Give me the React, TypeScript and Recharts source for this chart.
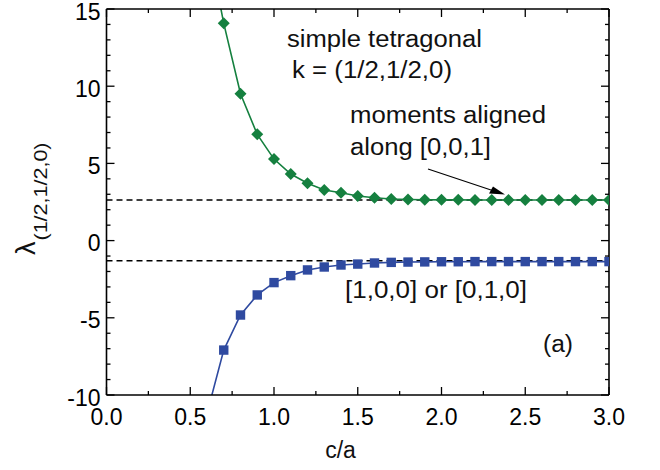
import React from 'react';
import { LineChart, Line, XAxis, YAxis, ReferenceLine, Customized } from 'recharts';

// c/a ratio sampled from 0.6 to 3.0
const caValues = [0.6, 0.7, 0.8, 0.9, 1.0, 1.1, 1.2, 1.3, 1.4, 1.5, 1.6, 1.7, 1.8, 1.9, 2.0, 2.1, 2.2, 2.3, 2.4, 2.5, 2.6, 2.7, 2.8, 2.9, 3.0];

// lambda for moments along [0,0,1]
const lambda001 = [19.6, 14.07, 9.51, 6.88, 5.28, 4.31, 3.71, 3.28, 3.1, 2.89, 2.78, 2.69, 2.66, 2.65, 2.64, 2.64, 2.63, 2.63, 2.63, 2.63, 2.63, 2.63, 2.63, 2.63, 2.63];

// lambda for moments along [1,0,0] or [0,1,0]
const lambda100 = [-11.2, -7.09, -4.82, -3.52, -2.72, -2.27, -1.9, -1.71, -1.58, -1.52, -1.45, -1.41, -1.39, -1.38, -1.37, -1.37, -1.36, -1.36, -1.36, -1.36, -1.36, -1.36, -1.36, -1.36, -1.36];

// asymptotic limits (dashed)
const limit001 = 2.63;
const limit100 = -1.3;

const xMajorTicks = [0, 0.5, 1.0, 1.5, 2.0, 2.5, 3.0];
const xMinorTicks = [0.25, 0.75, 1.25, 1.75, 2.25, 2.75];
const yMajorTicks = [-10, -5, 0, 5, 10, 15];
const yMinorTicks = [-9, -8, -7, -6, -4, -3, -2, -1, 1, 2, 3, 4, 6, 7, 8, 9, 11, 12, 13, 14];
const xAllTicks = [...xMajorTicks, ...xMinorTicks].sort((p, q) => p - q);
const yAllTicks = [...yMajorTicks, ...yMinorTicks].sort((p, q) => p - q);

const data = caValues.map((ca, i) => ({ ca, a: lambda001[i], b: lambda100[i] }));

const GREEN = '#15803f';
const BLUE = '#2f4aa0';
const INK = '#000';
const FONT = '"Liberation Sans", Arial, Helvetica, sans-serif';
const MAJOR = 8;
const MINOR = 4;

const isMajorX = (v: number) => xMajorTicks.some((t) => Math.abs(t - v) < 1e-9);
const isMajorY = (v: number) => yMajorTicks.some((t) => Math.abs(t - v) < 1e-9);

// bottom axis: inward tick plus label for majors
const BottomTick = (props: any) => {
  const { x, y, payload } = props;
  const major = isMajorX(payload.value);
  return (
    <g>
      <line x1={x} y1={y} x2={x} y2={y - (major ? MAJOR : MINOR)} stroke={INK} strokeWidth={1.3} />
      {major && (
        <text x={x} y={y + 30} textAnchor="middle" fontSize={23} fontFamily={FONT} fill={INK}>
          {payload.value.toFixed(1)}
        </text>
      )}
    </g>
  );
};

const TopTick = (props: any) => {
  const { x, y, payload } = props;
  const major = isMajorX(payload.value);
  return <line x1={x} y1={y} x2={x} y2={y + (major ? MAJOR : MINOR)} stroke={INK} strokeWidth={1.3} />;
};

const LeftTick = (props: any) => {
  const { x, y, payload } = props;
  const major = isMajorY(payload.value);
  return (
    <g>
      <line x1={x} y1={y} x2={x + (major ? MAJOR : MINOR)} y2={y} stroke={INK} strokeWidth={1.3} />
      {major && (
        <text x={x - 6} y={y + 10.5} textAnchor="end" fontSize={23} fontFamily={FONT} fill={INK}>
          {payload.value}
        </text>
      )}
    </g>
  );
};

const RightTick = (props: any) => {
  const { x, y, payload } = props;
  const major = isMajorY(payload.value);
  return <line x1={x} y1={y} x2={x - (major ? MAJOR : MINOR)} y2={y} stroke={INK} strokeWidth={1.3} />;
};

const Diamond = (props: any) => {
  const { cx, cy, index } = props;
  if (cx == null || cy == null) return <g key={`dg${index}`} />;
  const r = 6;
  return (
    <polygon
      key={`d${index}`}
      points={`${cx},${cy - r} ${cx + r},${cy} ${cx},${cy + r} ${cx - r},${cy}`}
      fill={GREEN}
    />
  );
};

const Square = (props: any) => {
  const { cx, cy, index } = props;
  if (cx == null || cy == null) return <g key={`sg${index}`} />;
  const h = 4.7;
  return <rect key={`s${index}`} x={cx - h} y={cy - h} width={2 * h} height={2 * h} fill={BLUE} />;
};

// in-plot notes, axis titles and the arrow
const Annotations = () => (
  <g fontFamily={FONT} fill="#111">
    <text x={287} y={47} fontSize={23} textLength={195} lengthAdjust="spacingAndGlyphs">simple tetragonal</text>
    <text x={292} y={78} fontSize={23} textLength={160} lengthAdjust="spacingAndGlyphs">k = (1/2,1/2,0)</text>
    <text x={350} y={123} fontSize={23} textLength={196} lengthAdjust="spacingAndGlyphs">moments aligned</text>
    <text x={350} y={155} fontSize={23} textLength={141} lengthAdjust="spacingAndGlyphs">along [0,0,1]</text>
    <text x={345} y={298} fontSize={23} textLength={182} lengthAdjust="spacingAndGlyphs">[1,0,0] or [0,1,0]</text>
    <text x={543} y={352} fontSize={23} textLength={30} lengthAdjust="spacingAndGlyphs">(a)</text>

    <line x1={428} y1={169} x2={497} y2={192} stroke="#000" strokeWidth={1.3} />
    <polygon points="505,194.5 489,193.5 493,186.5" fill="#000" />

    <text x={340.5} y={458} fontSize={23} textAnchor="middle">c/a</text>

    <text transform="translate(35,255) rotate(-90)">
      <tspan fontSize={27}>λ</tspan>
      <tspan fontSize={18} dy={12} dx={1} textLength={98} lengthAdjust="spacingAndGlyphs">(1/2,1/2,0)</tspan>
    </text>
  </g>
);

const axisLine = { stroke: INK, strokeWidth: 1.6 };

export default function App() {
  return (
    <div style={{ position: 'absolute', left: 0, top: 0, width: 660, height: 470, background: '#fff' }}>
      <LineChart width={660} height={470} data={data} margin={{ top: 8, right: 50, bottom: 25, left: 46.5 }}>
        <XAxis xAxisId="x" dataKey="ca" type="number" domain={[0, 3]} allowDataOverflow ticks={xAllTicks} interval={0}
          tickLine={false} tickSize={0} tickMargin={0} height={50} axisLine={axisLine} tick={BottomTick} />
        <XAxis xAxisId="xTop" dataKey="ca" type="number" orientation="top" domain={[0, 3]} allowDataOverflow ticks={xAllTicks} interval={0}
          tickLine={false} tickSize={0} tickMargin={0} height={1} axisLine={axisLine} tick={TopTick} />
        <YAxis yAxisId="y" type="number" domain={[-10, 15]} allowDataOverflow ticks={yAllTicks} interval={0}
          tickLine={false} tickSize={0} tickMargin={0} width={60} axisLine={axisLine} tick={LeftTick} />
        <YAxis yAxisId="yRight" type="number" orientation="right" domain={[-10, 15]} allowDataOverflow ticks={yAllTicks} interval={0}
          tickLine={false} tickSize={0} tickMargin={0} width={1} axisLine={axisLine} tick={RightTick} />

        <ReferenceLine xAxisId="x" yAxisId="y" y={limit001} stroke={INK} strokeWidth={1.5} strokeDasharray="6 4" />
        <ReferenceLine xAxisId="x" yAxisId="y" y={limit100} stroke={INK} strokeWidth={1.5} strokeDasharray="6 4" />

        {/* carrier series so the top/right frame axes get a scale */}
        <Line xAxisId="xTop" yAxisId="yRight" dataKey="a" stroke="none" dot={false} activeDot={false} isAnimationActive={false} />

        <Line xAxisId="x" yAxisId="y" dataKey="a" type="linear" stroke={GREEN} strokeWidth={1.6}
          dot={Diamond} activeDot={false} isAnimationActive={false} />
        <Line xAxisId="x" yAxisId="y" dataKey="b" type="linear" stroke={BLUE} strokeWidth={1.6}
          dot={Square} activeDot={false} isAnimationActive={false} />

        <Customized component={<Annotations />} />
      </LineChart>
    </div>
  );
}
